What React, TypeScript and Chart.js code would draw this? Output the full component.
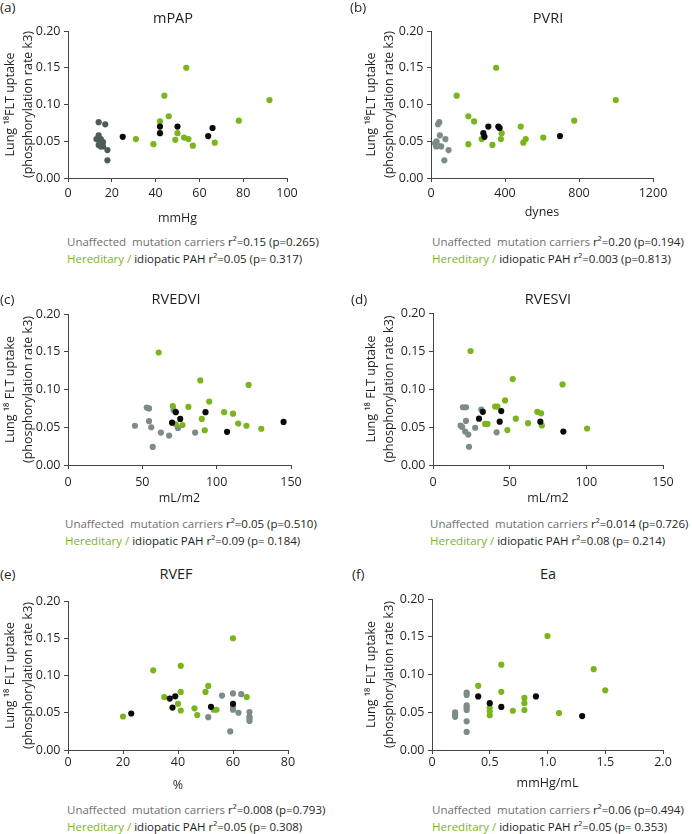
import React, { useEffect, useRef } from "react";
import { Chart, registerables } from "chart.js";

Chart.register(...registerables);

type Pt = [number, number];

// ---------- data (x value, phosphorylation rate k3) ----------
// (a) mPAP, mmHg
const mpapCarriers: Pt[] = [[14, 0.076], [17, 0.073], [14, 0.058], [13, 0.053], [15, 0.053], [14.5, 0.05], [16, 0.049], [14, 0.045], [15, 0.043], [16, 0.043], [18, 0.038], [18, 0.024]];
const mpapBlack: Pt[] = [[25, 0.056], [42, 0.07], [42, 0.061], [50, 0.07], [64, 0.057], [66, 0.068]];
const mpapPAH: Pt[] = [[31, 0.053], [39, 0.046], [42, 0.077], [44, 0.112], [46, 0.084], [49, 0.052], [50, 0.061], [53, 0.055], [54, 0.15], [55, 0.053], [57, 0.044], [67, 0.048], [78, 0.078], [92, 0.106]];

// (b) PVRI, dynes
const pvriCarriers: Pt[] = [[45, 0.076], [38, 0.073], [48, 0.058], [78, 0.053], [30, 0.05], [22, 0.047], [38, 0.044], [55, 0.043], [28, 0.043], [95, 0.038], [72, 0.024]];
const pvriBlack: Pt[] = [[283, 0.061], [289, 0.056], [310, 0.07], [364, 0.07], [371, 0.068], [697, 0.057]];
const pvriPAH: Pt[] = [[139, 0.112], [202, 0.084], [233, 0.077], [202, 0.046], [274, 0.053], [332, 0.045], [352, 0.15], [382, 0.061], [378, 0.053], [485, 0.07], [499, 0.048], [512, 0.053], [607, 0.055], [774, 0.078], [999, 0.106]];

// (c) RVEDVI, mL/m2
const rvedviCarriers: Pt[] = [[45, 0.052], [53, 0.076], [54.5, 0.075], [54.5, 0.058], [56, 0.05], [57, 0.024], [62.5, 0.043], [68, 0.039], [71, 0.073], [74, 0.049], [85.5, 0.043]];
const rvedviBlack: Pt[] = [[70, 0.056], [72.5, 0.07], [75.5, 0.061], [92.5, 0.07], [107, 0.044], [145, 0.057]];
const rvedviPAH: Pt[] = [[61, 0.149], [70.5, 0.078], [72.5, 0.054], [77, 0.053], [81, 0.077], [89, 0.112], [90, 0.061], [92, 0.046], [95, 0.084], [105, 0.07], [111, 0.068], [114.5, 0.055], [120, 0.052], [121.5, 0.106], [130, 0.048]];

// (d) RVESVI, mL/m2
const rvesviCarriers: Pt[] = [[18, 0.052], [19.5, 0.076], [21.5, 0.076], [21.5, 0.058], [19, 0.05], [21, 0.044], [23, 0.04], [23.5, 0.024], [27.5, 0.049], [31.5, 0.073], [41.5, 0.043]];
const rvesviBlack: Pt[] = [[30, 0.061], [32.5, 0.07], [43.5, 0.057], [44.5, 0.071], [70, 0.057], [85, 0.044]];
const rvesviPAH: Pt[] = [[24.5, 0.15], [34, 0.054], [35.5, 0.054], [40.5, 0.077], [42, 0.077], [47, 0.085], [48.5, 0.046], [52, 0.113], [54, 0.061], [62, 0.055], [68, 0.07], [70.5, 0.068], [71, 0.052], [84.5, 0.106], [100.5, 0.048]];

// (e) RVEF, %
const rvefCarriers: Pt[] = [[56, 0.073], [60, 0.076], [63, 0.075], [60, 0.058], [60, 0.054], [62, 0.05], [66, 0.051], [66, 0.045], [66, 0.042], [66, 0.039], [51, 0.044], [59, 0.025]];
const rvefBlack: Pt[] = [[23, 0.049], [37, 0.069], [39, 0.072], [38, 0.057], [52, 0.058], [60, 0.062]];
const rvefPAH: Pt[] = [[20, 0.045], [31, 0.107], [35, 0.071], [40, 0.062], [41, 0.078], [41, 0.113], [41, 0.053], [46, 0.056], [47, 0.047], [50, 0.078], [51, 0.086], [53, 0.054], [54, 0.054], [60, 0.15], [65, 0.071]];

// (f) Ea, mmHg/mL
const eaCarriers: Pt[] = [[0.2, 0.05], [0.2, 0.047], [0.2, 0.044], [0.3, 0.076], [0.3, 0.073], [0.3, 0.059], [0.3, 0.056], [0.3, 0.053], [0.3, 0.038], [0.3, 0.024]];
const eaBlack: Pt[] = [[0.4, 0.071], [0.5, 0.062], [0.6, 0.057], [0.9, 0.071], [1.3, 0.045]];
const eaPAH: Pt[] = [[0.4, 0.085], [0.5, 0.056], [0.5, 0.051], [0.5, 0.046], [0.6, 0.113], [0.6, 0.077], [0.7, 0.052], [0.8, 0.069], [0.8, 0.062], [0.8, 0.053], [1.0, 0.151], [1.1, 0.049], [1.4, 0.107], [1.5, 0.079]];

// statistics text
const carrierStats = ["r²=0.15 (p=0.265)", "r²=0.20 (p=0.194)", "r²=0.05 (p=0.510)", "r²=0.014 (p=0.726)", "r²=0.008 (p=0.793)", "r²=0.06 (p=0.494)"];
const pahStats = ["r²=0.05 (p= 0.317)", "r²=0.003 (p=0.813)", "r²=0.09 (p= 0.184)", "r²=0.08 (p= 0.214)", "r²=0.05 (p= 0.308)", "r²=0.05 (p= 0.353)"];

// ---------- styling ----------
const AXIS = "#4a4242";
const TEXT = "#231f20";
const GREEN = "#7ab51d";
const BLACK = "#0a0a0a";
const GREY_DARK = "#4f5b5b";
const GREY = "#7d8b8a";
const FONT = "'Open Sans', 'DejaVu Sans', sans-serif";

interface PanelDef {
  letter: string;
  title: string;
  yTitle: string[];
  xTitle: string;
  xMin: number;
  xMax: number;
  xStep: number;
  xFmt: (v: number) => string;
  canvasLeft: number;
  axisLeft: number;
  axisRight: number;
  axisTop: number;
  axisBottom: number;
  tickOffset: number;
  xTitleOffset: number;
  yTitleLeft: number;
  carriers: Pt[];
  black: Pt[];
  pah: Pt[];
  greyColor: string;
  titleX: number;
  titleY: number;
  letterX: number;
  letterY: number;
  footX: number;
  footY: number;
  stat1: string;
  stat2: string;
}

const intFmt = (v: number) => String(Math.round(v));
const oneDec = (v: number) => (v === 0 ? "0" : v.toFixed(1));
const Y1 = ["Lung ¹⁸FLT uptake", "(phosphorylation rate k3)"];
const Y2 = ["Lung ¹⁸ FLT uptake", "(phosphorylation rate k3)"];

const panels: PanelDef[] = [
  {
    letter: "(a)", title: "mPAP", yTitle: Y1, xTitle: "mmHg", xMin: 0, xMax: 100, xStep: 20, xFmt: intFmt,
    canvasLeft: 0, axisLeft: 68, axisRight: 287, axisTop: 31, axisBottom: 178,
    tickOffset: 15, xTitleOffset: 40, yTitleLeft: 1,
    carriers: mpapCarriers, black: mpapBlack, pah: mpapPAH, greyColor: GREY_DARK,
    titleX: 173, titleY: 18, letterX: 0, letterY: 7, footX: 67, footY: 241, stat1: carrierStats[0], stat2: pahStats[0],
  },
  {
    letter: "(b)", title: "PVRI", yTitle: Y1, xTitle: "dynes", xMin: 0, xMax: 1200, xStep: 400, xFmt: intFmt,
    canvasLeft: 346, axisLeft: 431, axisRight: 653, axisTop: 31, axisBottom: 178,
    tickOffset: 15, xTitleOffset: 34, yTitleLeft: 16,
    carriers: pvriCarriers, black: pvriBlack, pah: pvriPAH, greyColor: GREY,
    titleX: 548, titleY: 18, letterX: 350, letterY: 7, footX: 432, footY: 241, stat1: carrierStats[1], stat2: pahStats[1],
  },
  {
    letter: "(c)", title: "RVEDVI", yTitle: Y2, xTitle: "mL/m2", xMin: 0, xMax: 150, xStep: 50, xFmt: intFmt,
    canvasLeft: 0, axisLeft: 68, axisRight: 291, axisTop: 314, axisBottom: 465,
    tickOffset: 17, xTitleOffset: 33, yTitleLeft: 1,
    carriers: rvedviCarriers, black: rvedviBlack, pah: rvedviPAH, greyColor: GREY,
    titleX: 176, titleY: 299, letterX: 0, letterY: 299, footX: 65, footY: 523, stat1: carrierStats[2], stat2: pahStats[2],
  },
  {
    letter: "(d)", title: "RVESVI", yTitle: Y2, xTitle: "mL/m2", xMin: 0, xMax: 150, xStep: 50, xFmt: intFmt,
    canvasLeft: 346, axisLeft: 433, axisRight: 663, axisTop: 313, axisBottom: 465,
    tickOffset: 17, xTitleOffset: 33, yTitleLeft: 16,
    carriers: rvesviCarriers, black: rvesviBlack, pah: rvesviPAH, greyColor: GREY,
    titleX: 548, titleY: 299, letterX: 351, letterY: 299, footX: 430, footY: 523, stat1: carrierStats[3], stat2: pahStats[3],
  },
  {
    letter: "(e)", title: "RVEF", yTitle: Y2, xTitle: "%", xMin: 0, xMax: 80, xStep: 20, xFmt: intFmt,
    canvasLeft: 0, axisLeft: 68, axisRight: 288, axisTop: 601, axisBottom: 750,
    tickOffset: 12, xTitleOffset: 35, yTitleLeft: 1,
    carriers: rvefCarriers, black: rvefBlack, pah: rvefPAH, greyColor: GREY,
    titleX: 176, titleY: 574, letterX: 0, letterY: 574, footX: 67, footY: 809, stat1: carrierStats[4], stat2: pahStats[4],
  },
  {
    letter: "(f)", title: "Ea", yTitle: Y2, xTitle: "mmHg/mL", xMin: 0, xMax: 2, xStep: 0.5, xFmt: oneDec,
    canvasLeft: 346, axisLeft: 432, axisRight: 663, axisTop: 599, axisBottom: 750,
    tickOffset: 12, xTitleOffset: 33, yTitleLeft: 16,
    carriers: eaCarriers, black: eaBlack, pah: eaPAH, greyColor: GREY,
    titleX: 548, titleY: 574, letterX: 352, letterY: 574, footX: 432, footY: 809, stat1: carrierStats[5], stat2: pahStats[5],
  },
];

const toXY = (pts: Pt[]) => pts.map(([x, y]) => ({ x, y }));

function PanelChart({ p }: { p: PanelDef }) {
  const ref = useRef<HTMLCanvasElement | null>(null);
  const padTop = 14;
  const W = 346;
  const plotH = p.axisBottom - p.axisTop;
  const xScaleH = p.xTitleOffset + 8;
  const padBottom = 2;
  const H = padTop + plotH + xScaleH + padBottom;
  const yScaleW = p.axisLeft - p.canvasLeft - p.yTitleLeft;
  const padRight = p.canvasLeft + W - p.axisRight;

  useEffect(() => {
    if (!ref.current) return;
    const pointStyle = (color: string) => ({
      backgroundColor: color,
      borderColor: color,
      borderWidth: 0,
      pointRadius: 3.1,
      pointHoverRadius: 3.1,
    });
    const chart = new Chart(ref.current, {
      type: "scatter",
      data: {
        datasets: [
          { label: "black", data: toXY(p.black), ...pointStyle(BLACK) },
          { label: "Hereditary / idiopatic PAH", data: toXY(p.pah), ...pointStyle(GREEN) },
          { label: "Unaffected mutation carriers", data: toXY(p.carriers), ...pointStyle(p.greyColor) },
        ],
      },
      options: {
        responsive: false,
        animation: false,
        devicePixelRatio: 1,
        events: [],
        layout: { padding: { left: p.yTitleLeft, right: padRight, top: padTop, bottom: padBottom } },
        plugins: { legend: { display: false }, tooltip: { enabled: false }, title: { display: false } },
        scales: {
          x: {
            type: "linear",
            min: p.xMin,
            max: p.xMax,
            afterFit: (s: any) => { s.height = xScaleH; },
            ticks: {
              stepSize: p.xStep,
              autoSkip: false,
              maxRotation: 0,
              callback: (v: any) => p.xFmt(Number(v)),
              color: TEXT,
              font: { family: FONT, size: 12.5, lineHeight: 1.2 },
              padding: p.tickOffset - 4 - 7.5,
            },
            grid: { display: true, drawOnChartArea: false, drawTicks: true, tickLength: 4, color: AXIS, lineWidth: 1 },
            border: { display: true, color: AXIS, width: 1 },
            title: {
              display: true,
              text: p.xTitle,
              color: TEXT,
              font: { family: FONT, size: 12.5, lineHeight: 1.2 },
              padding: { top: 0, bottom: 0 },
            },
          },
          y: {
            type: "linear",
            min: 0,
            max: 0.2,
            afterFit: (s: any) => { s.width = yScaleW; },
            ticks: {
              stepSize: 0.05,
              callback: (v: any) => Number(v).toFixed(2),
              color: TEXT,
              font: { family: FONT, size: 12.5, lineHeight: 1.2 },
              padding: 3.5,
            },
            grid: { display: true, drawOnChartArea: false, drawTicks: true, tickLength: 4, color: AXIS, lineWidth: 1 },
            border: { display: true, color: AXIS, width: 1 },
            title: {
              display: true,
              text: p.yTitle,
              color: TEXT,
              font: { family: FONT, size: 12.5, lineHeight: 1.45 },
              padding: { top: 0, bottom: 0 },
            },
          },
        },
      },
    } as any);
    return () => chart.destroy();
  }, []);

  return (
    <canvas
      ref={ref}
      width={W}
      height={H}
      style={{ position: "absolute", left: p.canvasLeft, top: p.axisTop - padTop, width: W, height: H }}
    />
  );
}

function PanelText({ p }: { p: PanelDef }) {
  const lineH = 17;
  return (
    <>
      <div style={{ position: "absolute", left: p.letterX, top: p.letterY - 9, fontSize: 13.5, lineHeight: "18px", color: TEXT }}>
        {p.letter}
      </div>
      <div
        style={{
          position: "absolute", left: p.titleX, top: p.titleY - 10, transform: "translateX(-50%)",
          fontSize: 14.5, lineHeight: "20px", color: TEXT, whiteSpace: "nowrap",
        }}
      >
        {p.title}
      </div>
      <div
        style={{
          position: "absolute", left: p.footX, top: p.footY - lineH / 2, fontSize: 11.5,
          lineHeight: lineH + "px", whiteSpace: "pre", color: TEXT,
        }}
      >
        <div>
          <span style={{ color: "#707070" }}>{"Unaffected  mutation carriers "}</span>
          <span>{p.stat1}</span>
        </div>
        <div>
          <span style={{ color: GREEN }}>{"Hereditary / "}</span>
          <span>{"idiopatic PAH " + p.stat2}</span>
        </div>
      </div>
    </>
  );
}

export default function App() {
  return (
    <div
      style={{
        position: "absolute", left: 0, top: 0, width: 692, height: 834, background: "#ffffff",
        fontFamily: FONT, overflow: "hidden",
      }}
    >
      {panels.map((p) => (
        <PanelChart key={p.letter} p={p} />
      ))}
      {panels.map((p) => (
        <PanelText key={"t" + p.letter} p={p} />
      ))}
    </div>
  );
}
